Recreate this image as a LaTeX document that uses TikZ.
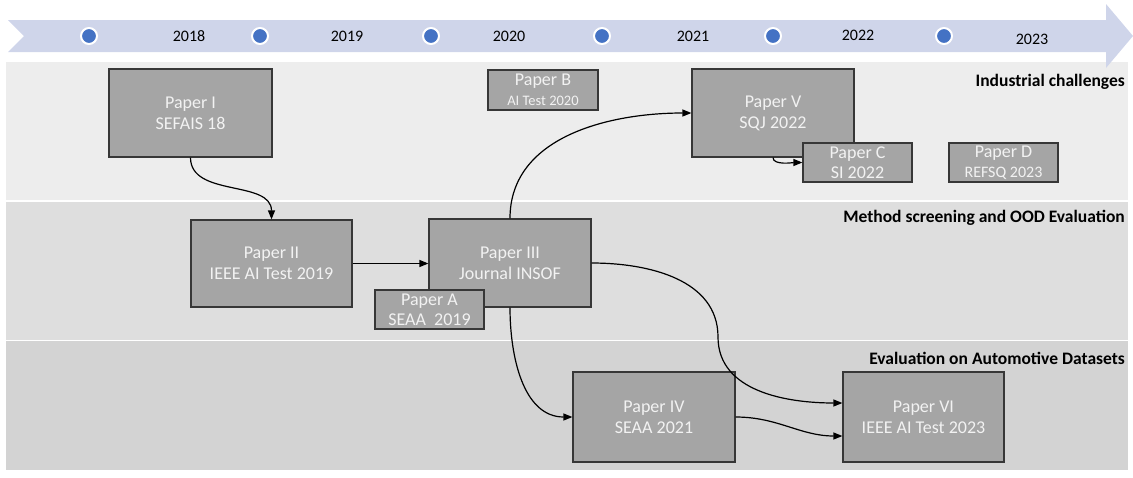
\documentclass[tikz,border=0pt]{standalone}
\usepackage{fontspec}
\setmainfont{Carlito}
\usetikzlibrary{arrows.meta}
\definecolor{pasA}{RGB}{237,237,237}
\definecolor{pasB}{RGB}{222,222,222}
\definecolor{pasC}{RGB}{211,211,211}
\definecolor{osa}{RGB}{207,213,234}
\definecolor{modra}{RGB}{68,114,196}
\definecolor{seda}{RGB}{165,165,165}
\definecolor{okraj}{RGB}{55,55,55}
\tikzset{
  clanek/.style={rectangle,draw=okraj,fill=seda,line width=1.2pt,inner sep=0pt,align=center,text=white!95!black,font=\fontsize{18}{21}\selectfont},
  clanekV/.style={clanek,minimum width=162pt,minimum height=88pt},
  clanekM/.style={clanek,minimum width=109pt,minimum height=39pt,font=\fontsize{18}{20}\selectfont},
  bod/.style={circle,fill=modra,draw=white,line width=2pt,minimum size=16pt,inner sep=0pt},
  rok/.style={font=\fontsize{16}{19}\selectfont},
  nadpis/.style={anchor=east,inner sep=0pt,font=\bfseries\fontsize{17.5}{20}\selectfont},
  sip/.style={-{Triangle[length=9pt,width=7pt]},line width=1.2pt},
}
\begin{document}
\begin{tikzpicture}[x=1pt,y=1pt]
\useasboundingbox (0,0) rectangle (1133,-477);
% pasy
\fill[pasA] (6,-62) rectangle (1128,-200);
\fill[pasB] (6,-202) rectangle (1128,-339.5);
\fill[pasC] (6,-341) rectangle (1128,-470);
% casova osa
\fill[osa] (8,-20) -- (1106,-20) -- (1106,-4) -- (1133,-36) -- (1106,-68) -- (1106,-52) -- (8,-52) -- (24,-36) -- cycle;
\foreach \x [count=\i] in {89,260,431,602,773,944}
  \node[bod] (b\i) at (\x,-36) {};
\foreach \x/\y/\r in {189/36/2018,347/36/2019,509/36/2020,693/36/2021,858/35/2022,1032/39/2023}
  \node[rok] (r\r) at (\x,-\y) {\r};
% nadpisy pasu
\node[nadpis] (n1) at (1125,-82) {Industrial challenges};
\node[nadpis] (n2) at (1125,-218) {Method screening and OOD Evaluation};
\node[nadpis] (n3) at (1125,-358) {Evaluation on Automotive Datasets};
% clanky
\node[clanekV,minimum width=163pt] (p1) at (190.5,-113) {Paper I\\SEFAIS 18};
\node[clanekV,minimum width=161pt,minimum height=87pt] (p2) at (271.5,-263.5) {Paper II\\IEEE AI Test 2019};
\node[clanekV] (p3) at (510,-263) {Paper III\\Journal INSOF};
\node[clanekV] (p5) at (773,-113) {Paper V\\SQJ 2022};
\node[clanekV,minimum height=90pt] (p4) at (654,-417) {Paper IV\\SEAA 2021};
\node[clanekV,minimum width=161pt,minimum height=90pt] (p6) at (923.5,-417) {Paper VI\\IEEE AI Test 2023};
\node[clanekM] (pa) at (429.5,-309.5) {Paper A\\SEAA\ \ 2019};
\node[clanekM,minimum width=110pt,minimum height=40pt] (pb) at (543,-90) {Paper B\\{\fontsize{14.5}{17}\selectfont AI Test 2020}};
\node[clanekM] (pc) at (857.5,-162.5) {Paper C\\SI 2022};
\node[clanekM] (pd) at (1003.5,-162.5) {Paper D\\{\fontsize{16}{19}\selectfont REFSQ 2023}};
% sipky
\coordinate (ohyb) at (718,-337);
\draw[sip] (p1.south) to[out=-90,in=90] (p2.north);
\draw[sip] (p2.east) -- (p2.east -| p3.west);
\draw[sip] (p3.north) to[out=90,in=180] (p5.west);
\draw[sip] (p3.south) to[out=-90,in=180] (p4.west);
\draw[sip] (p3.east) to[out=0,in=90] (ohyb) to[out=-90,in=180] ([yshift=14pt]p6.west);
\draw[sip] (p4.east) to[out=0,in=180] ([yshift=-19pt]p6.west);
\draw[sip] (p5.south) to[out=-90,in=180,looseness=0.7] (pc.west);
\end{tikzpicture}
\end{document}
